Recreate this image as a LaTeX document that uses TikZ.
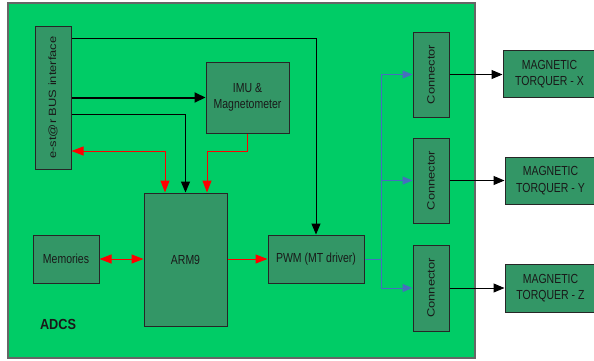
\documentclass[tikz,border=0pt]{standalone}
\usepackage{fontspec}
\setmainfont{Liberation Sans}
\usetikzlibrary{arrows.meta}
\definecolor{bggreen}{RGB}{0,204,102}
\definecolor{boxgreen}{RGB}{51,150,102}
\definecolor{lblue}{RGB}{70,110,190}
\definecolor{txt}{RGB}{25,25,25}
\tikzset{
  box/.style={draw=black!85, line width=1pt, fill=boxgreen, inner sep=0pt},
  htext/.style={yscale=1.25, text=txt, font=\fontsize{10.5}{13.3}\selectfont, align=center},
  vtext/.style={rotate=90, xscale=1.23, text=txt, font=\fontsize{10.5}{12.6}\selectfont},
  blkline/.style={draw=black, line width=1pt},
  blkarrow/.style={blkline, -{Triangle[length=11pt,width=9pt]}},
  thickarrow/.style={draw=black, line width=2pt, -{Triangle[length=11pt,width=10pt]}},
  redarrow/.style={draw=red, line width=1pt, -{Triangle[length=12pt,width=9pt]}},
  redboth/.style={draw=red, line width=1pt, {Triangle[length=12pt,width=9pt]}-{Triangle[length=12pt,width=9pt]}},
  bluearrow/.style={draw=lblue, line width=1pt, -{Triangle[length=10pt,width=8pt]}},
}
\begin{document}
\begin{tikzpicture}[x=1pt, y=-1pt]
\useasboundingbox (0,0) rectangle (594,360);
\fill[white] (0,0) rectangle (594,360);
% ADCS background
\node[draw=black!60, line width=1.2pt, fill=bggreen, minimum width=467pt, minimum height=355pt, inner sep=0pt] (adcs) at (241.5,180.5) {};
\node[yscale=1.15, font=\fontsize{12.7}{14}\selectfont\bfseries, text=txt] (adcslbl) at (58,324) {ADCS};
% boxes
\node[box, minimum width=36pt, minimum height=143pt] (estar) at (53,97.5) {};
\node[vtext] (estartxt) at (estar) {e-st@r BUS interface};
\node[box, minimum width=83pt, minimum height=71pt] (imu) at (247.5,97.5) {};
\node[htext] (imutxt) at (imu) {IMU \&\\Magnetometer};
\node[box, minimum width=83pt, minimum height=133pt] (arm) at (185.5,259.5) {};
\node[htext] (armtxt) at (arm) {ARM9};
\node[box, minimum width=66pt, minimum height=48pt] (mem) at (66,259) {};
\node[htext] (memtxt) at (mem) {Memories};
\node[box, minimum width=96pt, minimum height=48pt] (pwm) at (316,259) {};
\node[htext] (pwmtxt) at (pwm) {PWM (MT driver)};
\foreach \n/\y/\h in {c1/74.5/85, c2/180.5/85, c3/288/86}{
  \node[box, minimum width=36pt, minimum height=\h pt] (\n) at (431,\y) {};
  \node[vtext] (\n txt) at (\n) {Connector};
}
\node[box, minimum width=93pt, minimum height=47pt] (tx) at (549.5,74) {};
\node[htext] (txtxt) at (tx) {MAGNETIC\\TORQUER - X};
\node[box, minimum width=91pt, minimum height=47pt] (ty) at (550.5,180.5) {};
\node[htext] (tytxt) at (ty) {MAGNETIC\\TORQUER - Y};
\node[box, minimum width=91pt, minimum height=48pt] (tz) at (550.5,288) {};
\node[htext] (tztxt) at (tz) {MAGNETIC\\TORQUER - Z};
% black connectors
\draw[blkarrow] (estar.east |- 0,38) -| (pwm.north);
\draw[thickarrow] (estar.east |- imu.west) -- (imu.west);
\draw[blkarrow] (estar.east |- 0,114) -| (arm.north);
% red connectors
\draw[redboth] ([xshift=-20.5pt]arm.north) |- (estar.east |- 0,151);
\draw[redarrow] (imu.south) |- (207,151) -- ([xshift=21.5pt]arm.north);
\draw[redboth] (mem.east) -- (arm.west |- mem.east);
\draw[redarrow] (arm.east |- pwm.west) -- (pwm.west);
% blue branches
\coordinate (bj) at (381,259);
\draw[draw=lblue, line width=1pt] (pwm.east) -- (bj);
\draw[bluearrow] (bj) |- (c1.west);
\draw[bluearrow] (bj) |- (c2.west);
\draw[bluearrow] (bj) |- (c3.west);
% to torquers
\draw[blkarrow] (c1.east) -- (tx.west |- c1.east);
\draw[blkarrow] (c2.east) -- (ty.west |- c2.east);
\draw[blkarrow] (c3.east) -- (tz.west |- c3.east);
\end{tikzpicture}
\end{document}
